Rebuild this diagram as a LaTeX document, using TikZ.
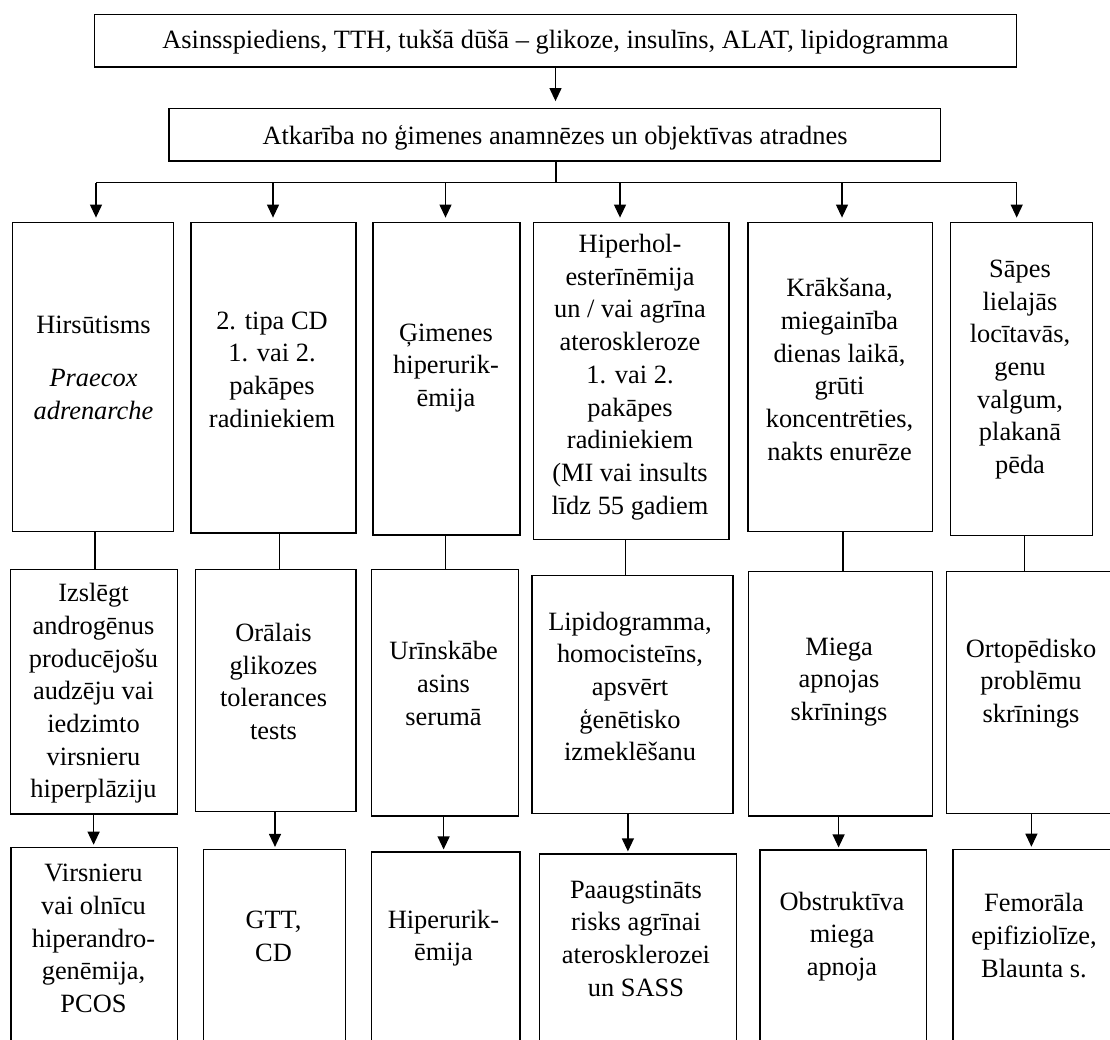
\documentclass[tikz,border=0pt]{standalone}
\usepackage{fontspec}
\setmainfont{Liberation Serif}
\usetikzlibrary{arrows.meta,fit}
\begin{document}
\begin{tikzpicture}[x=1pt,y=-1pt,
  box/.style={draw, line width=1.2pt, inner sep=0pt},
  txt/.style={align=center, font=\fontsize{26.4}{32.7}\selectfont, inner sep=0pt},
  ln/.style={line width=1.2pt},
  arr/.style={line width=1.2pt, -{Triangle[width=12pt,length=13pt]}}]
\useasboundingbox (0,0) rectangle (1110,1039);
\clip (0,0) rectangle (1110,1039);

% top boxes
\node[box, fit={(94.3,14.7)(1016.7,67)}] (top) {};
\node[txt] (ttop) at (555.5,42) {Asinsspiediens, TTH, tukšā dūšā – glikoze, insulīns, ALAT, lipidogramma};
\node[box, fit={(169,108.7)(940.7,161)}] (mid) {};
\node[txt] (tmid) at (555,137.5) {Atkarība no ģimenes anamnēzes un objektīvas atradnes};

% row 1
\node[box, fit={(12.5,222.7)(173.5,531.5)}] (r1a) {};
\node[box, fit={(191,222.7)(356,533)}] (r1b) {};
\node[box, fit={(373,222.7)(520,535)}] (r1c) {};
\node[box, fit={(533.5,222.7)(729,539.3)}] (r1d) {};
\node[box, fit={(748,222.7)(932.5,531.5)}] (r1e) {};
\node[box, fit={(950.7,222.7)(1092.5,535.3)}] (r1f) {};

\node[txt] (t1a) at (93.5,368) {Hirsūtisms\\[20pt]\textit{Praecox}\\\textit{adrenarche}};
\node[txt] (t1b) at (272,369.5) {2. tipa CD\\1. vai 2.\\pakāpes\\radiniekiem};
\node[txt] (t1c) at (446,368) {Ģimenes\\hiperurik-\\ēmija};
\node[txt] (t1d) at (630,377) {Hiperhol-\\esterīnēmija\\un / vai agrīna\\ateroskleroze\\1. vai 2.\\pakāpes\\radiniekiem\\(MI vai insults\\līdz 55 gadiem};
\node[txt] (t1e) at (839.5,369.5) {Krākšana,\\miegainība\\dienas laikā,\\grūti\\koncentrēties,\\nakts enurēze};
\node[txt] (t1f) at (1020,369.5) {Sāpes\\lielajās\\locītavās,\\genu\\valgum,\\plakanā\\pēda};

% row 2
\node[box, fit={(10.7,569.3)(177.5,814)}] (r2a) {};
\node[box, fit={(195.5,569.3)(356,811.7)}] (r2b) {};
\node[box, fit={(371.4,569.3)(518.6,816)}] (r2c) {};
\node[box, fit={(532,575.5)(732.9,813.5)}] (r2d) {};
\node[box, fit={(748.2,571.7)(932.8,816)}] (r2e) {};
\node[box, fit={(946.5,571.5)(1116,813.3)}] (r2f) {};

\node[txt] (t2a) at (93.5,693.5) {Izslēgt\\androgēnus\\producējošu\\audzēju vai\\iedzimto\\virsnieru\\hiperplāziju};
\node[txt] (t2b) at (273.5,681.5) {Orālais\\glikozes\\tolerances\\tests};
\node[txt] (t2c) at (443.5,683.5) {Urīnskābe\\asins\\serumā};
\node[txt] (t2d) at (630,686.5) {Lipidogramma,\\homocisteīns,\\apsvērt\\ģenētisko\\izmeklēšanu};
\node[txt] (t2e) at (839,682) {Miega\\apnojas\\skrīnings};
\node[txt] (t2f) at (1031,683.5) {Ortopēdisko\\problēmu\\skrīnings};

% row 3
\node[box, fit={(11,847.3)(177.3,1060)}] (r3a) {};
\node[box, fit={(203.5,849.5)(345.7,1060)}] (r3b) {};
\node[box, fit={(371.4,852)(520,1060)}] (r3c) {};
\node[box, fit={(539.3,854)(736.4,1060)}] (r3d) {};
\node[box, fit={(760,850)(926.8,1060)}] (r3e) {};
\node[box, fit={(952.9,849.3)(1116,1060)}] (r3f) {};

\node[txt] (t3a) at (93.5,938.5) {Virsnieru\\vai olnīcu\\hiperandro-\\genēmija,\\PCOS};
\node[txt] (t3b) at (273.5,936.5) {GTT,\\CD};
\node[txt] (t3c) at (443.5,938) {Hiperurik-\\ēmija};
\node[txt] (t3d) at (636,938.5) {Paaugstināts\\risks agrīnai\\aterosklerozei\\un SASS};
\node[txt] (t3e) at (842,936.5) {Obstruktīva\\miega\\apnoja};
\node[txt] (t3f) at (1034,935.5) {Femorāla\\epifiziolīze,\\Blaunta s.};

% connectors top
\draw[arr, shorten >=7pt] (top.south) -- (top.south |- mid.north);
\coordinate (bus) at (556,182.7);
\draw[ln] (bus |- mid.south) -- (bus);
\coordinate (k1) at (96,182.7);
\coordinate (k2) at (273,182.7);
\coordinate (k3) at (445.5,182.7);
\coordinate (k4) at (620,182.7);
\coordinate (k5) at (842,182.7);
\coordinate (k6) at (1016.7,182.7);
\draw[ln] (k1) -- (k6);
\draw[arr, shorten >=4.5pt] (k1) -- (k1 |- r1a.north);
\draw[arr, shorten >=4.5pt] (k2) -- (k2 |- r1b.north);
\draw[arr, shorten >=4.5pt] (k3) -- (k3 |- r1c.north);
\draw[arr, shorten >=4.5pt] (k4) -- (k4 |- r1d.north);
\draw[arr, shorten >=4.5pt] (k5) -- (k5 |- r1e.north);
\draw[arr, shorten >=4.5pt] (k6) -- (k6 |- r1f.north);

% row1 -> row2
\coordinate (c1) at (95,0);
\coordinate (c2) at (279.6,0);
\coordinate (c3) at (445.7,0);
\coordinate (c4) at (625.7,0);
\coordinate (c5) at (843,0);
\coordinate (c6) at (1024.5,0);
\draw[ln] (c1 |- r1a.south) -- (c1 |- r2a.north);
\draw[ln] (c2 |- r1b.south) -- (c2 |- r2b.north);
\draw[ln] (c3 |- r1c.south) -- (c3 |- r2c.north);
\draw[ln] (c4 |- r1d.south) -- (c4 |- r2d.north);
\draw[ln] (c5 |- r1e.south) -- (c5 |- r2e.north);
\draw[ln] (c6 |- r1f.south) -- (c6 |- r2f.north);

% row2 -> row3
\coordinate (d1) at (93.6,0);
\coordinate (d2) at (275,0);
\coordinate (d3) at (443.6,0);
\coordinate (d4) at (627.9,0);
\coordinate (d5) at (838.6,0);
\coordinate (d6) at (1031.4,0);
\draw[arr, shorten >=2pt] (d1 |- r2a.south) -- (d1 |- r3a.north);
\draw[arr, shorten >=2pt] (d2 |- r2b.south) -- (d2 |- r3b.north);
\draw[arr, shorten >=2pt] (d3 |- r2c.south) -- (d3 |- r3c.north);
\draw[arr, shorten >=2pt] (d4 |- r2d.south) -- (d4 |- r3d.north);
\draw[arr, shorten >=2pt] (d5 |- r2e.south) -- (d5 |- r3e.north);
\draw[arr, shorten >=2pt] (d6 |- r2f.south) -- (d6 |- r3f.north);
\end{tikzpicture}
\end{document}
